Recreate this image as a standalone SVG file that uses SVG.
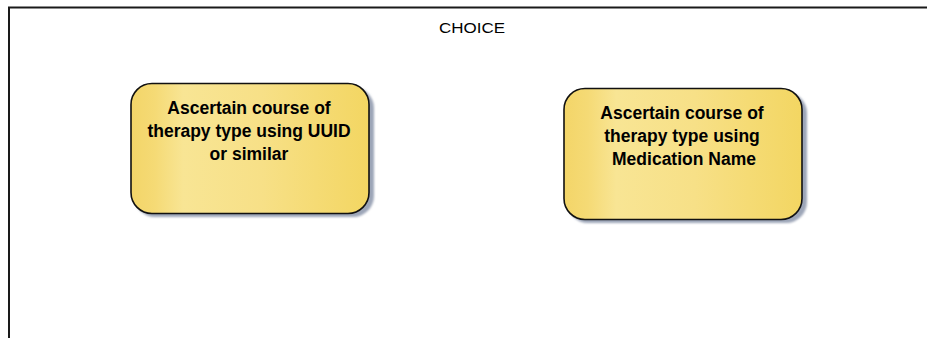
<svg xmlns="http://www.w3.org/2000/svg" width="927" height="338" viewBox="0 0 927 338">
<defs>
<linearGradient id="fill" x1="0" y1="0" x2="1" y2="0">
<stop offset="0" stop-color="#F3D568"/>
<stop offset="0.1" stop-color="#F5DA75"/>
<stop offset="0.22" stop-color="#F8E594"/>
<stop offset="0.55" stop-color="#F7E087"/>
<stop offset="1" stop-color="#F3D662"/>
</linearGradient>
<filter id="blur" x="-10%" y="-10%" width="120%" height="120%"><feGaussianBlur stdDeviation="1.2"/></filter>
<style>
.frame{fill:none;stroke:#1a1a1a;stroke-width:2}
.shadow{fill:#9DA6B8;filter:url(#blur)}
.box{fill:url(#fill);stroke:#111;stroke-width:1.6}
.lbl{font-family:"Liberation Sans",Arial,sans-serif;font-weight:bold;font-size:17.5px;fill:#000;text-anchor:middle}
.title{font-family:"Liberation Sans",Arial,sans-serif;font-size:15px;fill:#000;text-anchor:middle}
</style>
</defs>
<rect width="927" height="338" fill="#fff"/>
<g id="frame">
<path class="frame" d="M9 338 V7.5 H927"/>
<text class="title" x="472" y="33" textLength="66" lengthAdjust="spacingAndGlyphs">CHOICE</text>
</g>
<g id="connectors"></g>
<g id="node1">
<rect class="shadow" x="134" y="87" width="240" height="130" rx="21"/>
<rect class="box" x="131" y="83.5" width="238" height="130" rx="21"/>
<text class="lbl" x="249" y="114">Ascertain course of</text>
<text class="lbl" x="249" y="137">therapy type using UUID</text>
<text class="lbl" x="249" y="160">or similar</text>
</g>
<g id="node2">
<rect class="shadow" x="567" y="92" width="240" height="131" rx="21"/>
<rect class="box" x="564" y="88.5" width="238" height="131" rx="21"/>
<text class="lbl" x="682" y="119">Ascertain course of</text>
<text class="lbl" x="682" y="142">therapy type using </text>
<text class="lbl" x="684" y="165">Medication Name</text>
</g>
</svg>
